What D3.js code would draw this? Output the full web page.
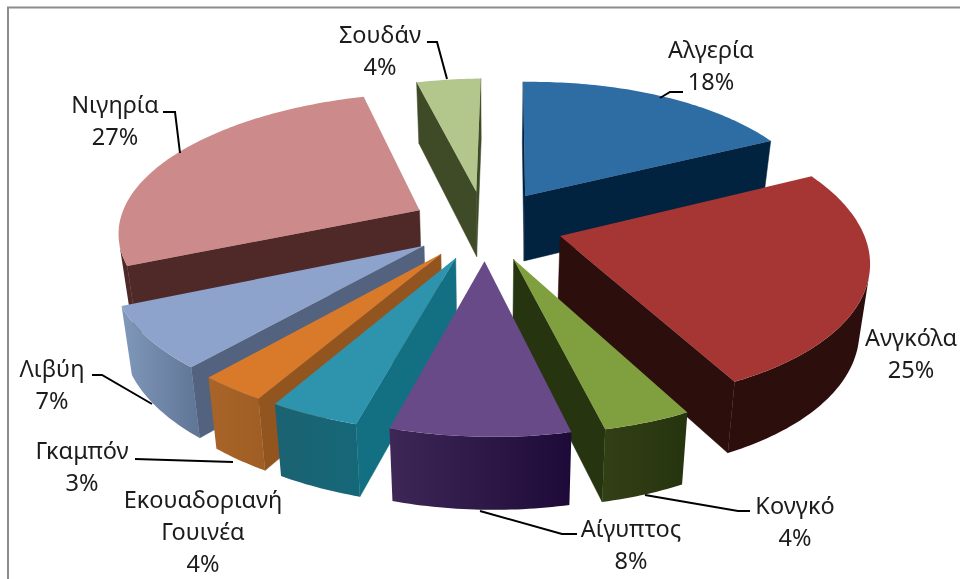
<!DOCTYPE html>
<html><head><meta charset="utf-8">
<script src="https://cdnjs.cloudflare.com/ajax/libs/d3/7.8.5/d3.min.js"></script>
<style>html,body{margin:0;background:#fff}svg{display:block;filter:blur(.35px)}</style></head>
<body><svg id="c" width="960" height="579"></svg>
<script>
const categories=["Αλγερία","Ανγκόλα","Κονγκό","Αίγυπτος","Εκουαδοριανή Γουινέα","Γκαμπόν","Λιβύη","Νιγηρία","Σουδάν"];
const values=[18,25,4,8,4,3,7,27,4];
const topColors=["#2e6ca4","#a63633","#80a03f","#694a88","#2e94ad","#d97a2b","#8ea3cb","#cc8a8a","#b3c78c"];
const cutColors=["#012340","#2c0e0c","#26340f","#1f0b38","#137083","#925520","#52627f","#4f2828","#3f4a27"];
const outerRight=["#012340","#2c0e0c","#26340f","#1e0a38","#156878","#9f5e24","#5f7596","#4f2828","#3f4a27"];
const outerLeft=["#012340","#2c0e0c","#333f15","#3d2756","#1b6272","#a96428","#8098bb","#4f2828","#3f4a27"];
const labelLines=[["Αλγερία","18%"],["Ανγκόλα","25%"],["Κονγκό","4%"],["Αίγυπτος","8%"],["Εκουαδοριανή","Γουινέα","4%"],["Γκαμπόν","3%"],["Λιβύη","7%"],["Νιγηρία","27%"],["Σουδάν","4%"]];

// layout (not data)
const labelPos=[[711,58],[911,346],[795,514],[631,537],[203,508],[82,459],[52,377],[115,113],[380,43]];
const leaders=[[[683,92],[670,92],[660,98]],null,[[750,511],[738,511],[645,495]],[[577,534],[562,534],[480,511]],null,[[135,459],[233,462]],[[92,375],[102,375],[152,404]],[[163,112],[175,112],[180,153]],[[427,42],[437,42],[447,79]]];
const cx=487,cy=225,R=301,explode=76,tilt=0.46,persp=0.145,depth=66,conv=0.028,rot=1.5*Math.PI/180,skew=6.5;

const svg=d3.select("#c");
svg.append("path").attr("d","M8,579V7.5H960").attr("fill","none").attr("stroke","#8c8c8c").attr("stroke-width",2);
const defs=svg.append("defs");

const pie=d3.pie().sort(null).value(d=>d).startAngle(-rot).endAngle(2*Math.PI-rot);
const rScale=d3.scaleLinear().domain([0,1]).range([0,R]);
const line=d3.line().curve(d3.curveLinearClosed);
function project(X,Y,z){
  const s=1/(1+persp*Y/R);
  return [cx+X*s*(1-conv*z)+skew*(Y/R)*(Y/R), cy-Y*tilt*s+depth*Math.sqrt(s)*z];
}
function area2(p){let a=0;p.forEach((q,i)=>{const r=p[(i+1)%p.length];a+=q[0]*r[1]-r[0]*q[1];});return a;}

const slices=pie(values).map((d,i)=>{
  const mid=(d.startAngle+d.endAngle)/2;
  return {i,a0:d.startAngle,a1:d.endAngle,mid,ox:explode*Math.sin(mid),oy:explode*Math.cos(mid)};
}).sort((a,b)=>Math.cos(b.mid)-Math.cos(a.mid));

const g=svg.append("g");
slices.forEach(s=>{
  const rim=t=>[s.ox+rScale(1)*Math.sin(t),s.oy+rScale(1)*Math.cos(t)];
  const P=(q,z)=>project(q[0],q[1],z);
  const apex=[s.ox,s.oy];
  const n=Math.max(8,Math.round((s.a1-s.a0)*60));
  const ts=d3.range(n+1).map(k=>s.a0+(s.a1-s.a0)*k/n);
  const quad=(a,b)=>[P(a,0),P(b,0),P(b,1),P(a,1)];
  [[apex,rim(s.a0)],[rim(s.a1),apex]].forEach(([a,b])=>{
    const q=quad(a,b);
    if(area2(q)<0) g.append("path").attr("d",line(q)).attr("fill",cutColors[s.i]).attr("stroke",cutColors[s.i]).attr("stroke-width",.5);
  });
  // outer wall: the run of rim segments that face the viewer
  const vis=ts.slice(0,-1).map((t,k)=>k).filter(k=>area2(quad(rim(ts[k]),rim(ts[k+1])))<0);
  if(vis.length){
    const run=d3.range(vis[0],vis[vis.length-1]+2).map(k=>ts[k]);
    const up=run.map(t=>P(rim(t),0)), dn=run.map(t=>P(rim(t),1)).reverse();
    const poly=[...up,...dn];
    const ex=d3.extent(poly,p=>p[0]);
    const id="w"+s.i;
    const lg=defs.append("linearGradient").attr("id",id).attr("gradientUnits","userSpaceOnUse")
      .attr("x1",ex[0]).attr("x2",ex[1]).attr("y1",0).attr("y2",0);
    lg.append("stop").attr("offset",0).attr("stop-color",outerLeft[s.i]);
    lg.append("stop").attr("offset",1).attr("stop-color",outerRight[s.i]);
    g.append("path").attr("d",line(poly)).attr("fill","url(#"+id+")");
  }
  const top=[P(apex,0),...ts.map(t=>P(rim(t),0))];
  g.append("path").attr("d",line(top)).attr("fill",topColors[s.i]);
});

const lead=d3.line();
leaders.forEach(l=>{ if(l) svg.append("path").attr("d",lead(l)).attr("fill","none").attr("stroke","#000").attr("stroke-width",2); });

const pitch=32;
labelLines.forEach((ls,i)=>{
  const t=svg.append("text").attr("text-anchor","middle").attr("font-family","'Noto Sans',sans-serif").attr("font-size",23.5).attr("fill","#1c1c1c");
  ls.forEach((s,k)=>t.append("tspan").attr("x",labelPos[i][0]).attr("y",labelPos[i][1]+k*pitch).text(s));
});
</script></body></html>
